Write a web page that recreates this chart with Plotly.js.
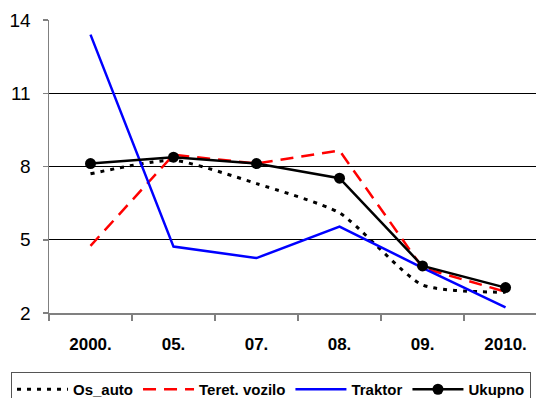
<!DOCTYPE html>
<html>
<head>
<meta charset="utf-8">
<script src="https://cdn.plot.ly/plotly-3.0.1.min.js"></script>
<style>html,body{margin:0;padding:0;background:#fff;}#chart{width:536px;height:398px;}</style>
</head>
<body>
<div id="chart"></div>
<script>
var categories = ['2000.', '05.', '07.', '08.', '09.', '2010.'];
var osAuto = [7.7, 8.25, 7.3, 6.1, 3.15, 2.85];
var teretVozilo = [4.75, 8.48, 8.12, 8.65, 3.85, 2.87];
var traktor = [13.4, 4.72, 4.25, 5.54, 3.85, 2.23];
var ukupno = [8.12, 8.38, 8.12, 7.52, 3.93, 3.04];
var yTicks = [2, 5, 8, 11, 14];

var FONT = 'Liberation Sans, Arial, sans-serif';

var traces = [
  {x: categories, y: osAuto, name: 'Os_auto', mode: 'lines', type: 'scatter',
   line: {color: '#000000', width: 3, dash: '4px,6px', shape: 'spline', smoothing: 0.6}},
  {x: categories, y: teretVozilo, name: 'Teret. vozilo', mode: 'lines', type: 'scatter',
   line: {color: '#FF0000', width: 2.5, dash: '13px,8px'}},
  {x: categories, y: traktor, name: 'Traktor', mode: 'lines', type: 'scatter',
   line: {color: '#0000FF', width: 2.5}},
  {x: categories, y: ukupno, name: 'Ukupno', mode: 'lines+markers', type: 'scatter',
   line: {color: '#000000', width: 2.5}, marker: {color: '#000000', size: 11, symbol: 'circle'}}
];

var layout = {
  width: 536, height: 398,
  margin: {l: 49, r: 0, t: 20, b: 85, pad: 0, autoexpand: false},
  paper_bgcolor: '#ffffff', plot_bgcolor: '#ffffff',
  showlegend: true,
  font: {family: FONT, color: '#000000'},
  xaxis: {
    type: 'category', range: [-0.5, 5.367],
    showgrid: false, zeroline: false,
    showline: true, linecolor: '#808080', linewidth: 1.5,
    ticks: 'outside', tickson: 'boundaries', ticklen: 6, tickcolor: '#808080', tickwidth: 1.5,
    tickfont: {family: FONT, size: 17, weight: 'bold', color: '#000000'},
    ticklabelstandoff: 15, automargin: false
  },
  yaxis: {
    range: [2, 14], tickvals: yTicks, ticktext: yTicks.map(String),
    showgrid: true, gridcolor: '#000000', gridwidth: 1,
    zeroline: false,
    showline: true, linecolor: '#808080', linewidth: 1.5,
    ticks: 'outside', ticklen: 5, tickcolor: '#808080', tickwidth: 1.5,
    tickfont: {family: FONT, size: 19, color: '#000000'},
    ticklabelstandoff: 8, automargin: false
  },
  legend: {
    orientation: 'h', x: -0.078, xanchor: 'left', y: -0.2014, yanchor: 'top',
    bgcolor: '#ffffff', bordercolor: '#555555', borderwidth: 1,
    font: {family: FONT, size: 15, weight: 'bold', color: '#000000'},
    itemwidth: 51, tracegroupgap: 0
  }
};

Plotly.newPlot('chart', traces, layout, {staticPlot: true, displayModeBar: false});
</script>
</body>
</html>
